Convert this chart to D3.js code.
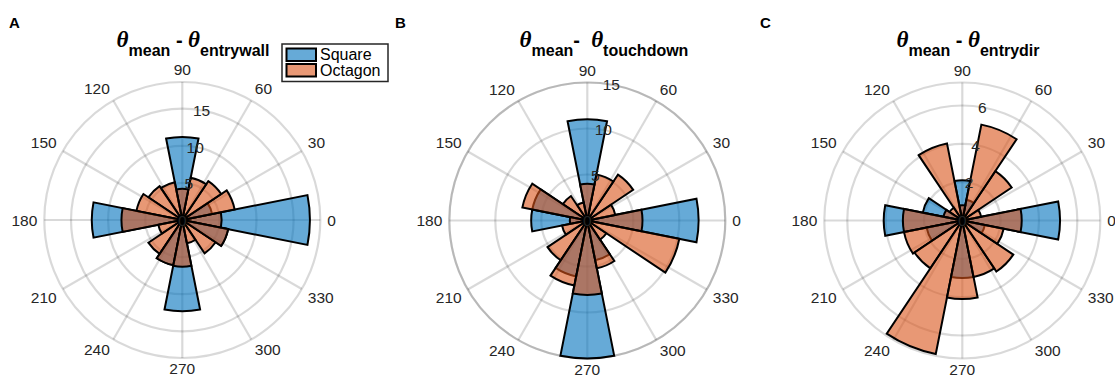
<!DOCTYPE html>
<html>
<head>
<meta charset="utf-8">
<script src="https://cdn.jsdelivr.net/npm/d3@7"></script>
<style>
body{margin:0;background:#fff;}
svg{display:block;font-family:"Liberation Sans",Arial,sans-serif;}
text{white-space:pre;}
</style>
</head>
<body>
<script>
(function(){

    //bin centres in degrees, each bin is 22.5 deg wide
    var binCenters = [0,22.5,45,67.5,90,112.5,135,157.5,180,202.5,225,247.5,270,292.5,315,337.5];
    var thetaTicks = [0,30,60,90,120,150,180,210,240,270,300,330];
    var seriesNames = ["Square","Octagon"];

    //panel A: theta_mean - theta_entrywall
    var squareA  = [17.2,4.1,0,0,11.2,0,0,0,12.2,0,0,6.2,12.3,0,0,6.3];
    var octagonA = [5.3,7.2,6.3,5.8,4.2,5.2,5.5,6.3,8.2,3.3,5.5,6.2,6.3,3.2,5.4,6.3];
    var rTicksA = [0,5,10,15];

    //panel B: theta_mean - theta_touchdown
    var squareB  = [12.1,0,0,0,11.0,0,0,6.1,6.1,0,0,6.2,15.0,4.4,0,0];
    var octagonB = [6.0,3.1,6.0,5.1,4.0,2.0,3.2,7.2,1.9,2.8,5.2,7.2,8.1,5.3,2.5,10.2];
    var rTicksB = [0,5,10,15];

    //panel C: theta_mean - theta_entrydir
    var squareC  = [5.1,0,0,1.1,2.1,0,0,2.1,4.1,1.9,0,0,3.0,0,0,1.2];
    var octagonC = [3.1,1.0,3.1,5.1,0.8,4.1,0.8,1.0,3.1,3.1,3.0,7.1,4.1,3.0,3.2,2.2];
    var rTicksC = [0,2,4,6];

    var width = 1115, height = 378, R = 138, binWidth = 22.5;
    var colors = ["rgb(0,114,189)","rgb(217,83,25)"];
    var textColor = "#262626";

    var svg = d3.select("body").append("svg")
        .attr("width",width)
        .attr("height",height);
    svg.append("rect").attr("width",width).attr("height",height).attr("fill","#fff");

    function rad(d){ return d*Math.PI/180; }

    function drawPanel(opt){
        var g = svg.append("g").attr("transform","translate("+opt.cx+","+opt.cy+")");
        var r = d3.scaleLinear().domain([0,opt.rMax]).range([0,R]);

        //grid rings and outer edge
        g.selectAll(".ring")
            .data(opt.rTicks.filter(function(d){ return d>0; }).concat([opt.rMax]))
            .enter().append("circle")
            .attr("r",function(d){ return r(d); })
            .attr("fill","none")
            .attr("stroke","#000")
            .attr("stroke-opacity",0.15)
            .attr("stroke-width",2.2);

        //spokes
        g.selectAll(".spoke")
            .data(thetaTicks)
            .enter().append("line")
            .attr("x1",0).attr("y1",0)
            .attr("x2",function(d){ return R*Math.cos(rad(d)); })
            .attr("y2",function(d){ return -R*Math.sin(rad(d)); })
            .attr("stroke","#000")
            .attr("stroke-opacity",0.15)
            .attr("stroke-width",2.2);

        //wedges, square first then octagon on top
        var arc = d3.arc()
            .innerRadius(0)
            .outerRadius(function(d){ return r(d.v); })
            .startAngle(function(d){ return Math.PI/2 - rad(d.c + binWidth/2); })
            .endAngle(function(d){ return Math.PI/2 - rad(d.c - binWidth/2); });

        [opt.square, opt.octagon].forEach(function(vals,i){
            var bins = binCenters.map(function(c,j){ return {c:c, v:vals[j]}; })
                .filter(function(d){ return d.v>0; });
            g.selectAll(".bar"+i)
                .data(bins)
                .enter().append("path")
                .attr("d",arc)
                .attr("fill",colors[i])
                .attr("fill-opacity",0.6)
                .attr("stroke","#000")
                .attr("stroke-width",2)
                .attr("stroke-linejoin","miter");
        });

        //theta labels
        g.selectAll(".tlab")
            .data(thetaTicks)
            .enter().append("text")
            .attr("x",function(d){ return (R+7)*Math.cos(rad(d)); })
            .attr("y",function(d){
                var s = Math.sin(rad(d));
                return -(s < -0.01 ? R+5 : R+7)*s;
            })
            .attr("dy",function(d){
                var s = Math.sin(rad(d));
                if (s > 0.01) return "0em";
                if (s < -0.01) return "0.72em";
                return "0.36em";
            })
            .attr("text-anchor",function(d){
                var c = Math.cos(rad(d));
                if (c > 0.01) return "start";
                if (c < -0.01) return "end";
                return "middle";
            })
            .attr("font-size",15.5)
            .attr("fill",textColor)
            .text(function(d){ return d; });

        //r labels at 80 deg
        g.selectAll(".rlab")
            .data(opt.rTicks)
            .enter().append("text")
            .attr("x",function(d){ return r(d)*Math.cos(rad(80)); })
            .attr("y",function(d){ return -r(d)*Math.sin(rad(80)); })
            .attr("dy","0.36em")
            .attr("text-anchor","middle")
            .attr("font-size",15.5)
            .attr("fill",textColor)
            .text(function(d){ return d; });

        //panel letter
        svg.append("text")
            .attr("x",opt.letterX).attr("y",28)
            .attr("font-size",15).attr("font-weight","bold")
            .attr("fill","#000")
            .text(opt.letter);

        //title
        var t = svg.append("text")
            .attr("x",opt.titleX).attr("y",47)
            .attr("text-anchor","middle")
            .attr("fill","#000")
            .attr("font-weight","bold");
        t.append("tspan").attr("font-family","Liberation Serif, serif").attr("font-style","italic").attr("font-size",23).text("\u03b8");
        t.append("tspan").attr("font-size",16).attr("dy",9).text("mean");
        t.append("tspan").attr("font-size",20).attr("dy",-9).text(opt.dash);
        t.append("tspan").attr("font-family","Liberation Serif, serif").attr("font-style","italic").attr("font-size",23).text("\u03b8");
        t.append("tspan").attr("font-size",16).attr("dy",9).text(opt.sub);
    }

    drawPanel({cx:182.3, cy:220, rMax:18.6, rTicks:rTicksA, square:squareA, octagon:octagonA,
        letter:"A", letterX:9, titleX:193, dash:" - ", sub:"entrywall"});
    drawPanel({cx:587.3, cy:220.5, rMax:15, rTicks:rTicksB, square:squareB, octagon:octagonB,
        letter:"B", letterX:395, titleX:604, dash:"-  ", sub:"touchdown"});
    drawPanel({cx:962.3, cy:220.5, rMax:7.2, rTicks:rTicksC, square:squareC, octagon:octagonC,
        letter:"C", letterX:760, titleX:968, dash:" - ", sub:"entrydir"});

    //legend
    var leg = svg.append("g").attr("transform","translate(282,44)");
    leg.append("rect")
        .attr("width",106).attr("height",37.5)
        .attr("fill","#fff")
        .attr("stroke","#262626")
        .attr("stroke-width",1.5);
    seriesNames.forEach(function(name,i){
        leg.append("rect")
            .attr("x",4.5).attr("y",4.5 + i*15.5)
            .attr("width",29.5).attr("height",12.5)
            .attr("fill",colors[i]).attr("fill-opacity",0.6)
            .attr("stroke","#000").attr("stroke-width",2);
        leg.append("text")
            .attr("x",38).attr("y",16 + i*15.5)
            .attr("font-size",16)
            .attr("fill","#000")
            .text(name);
    });

})();
</script>
</body>
</html>
